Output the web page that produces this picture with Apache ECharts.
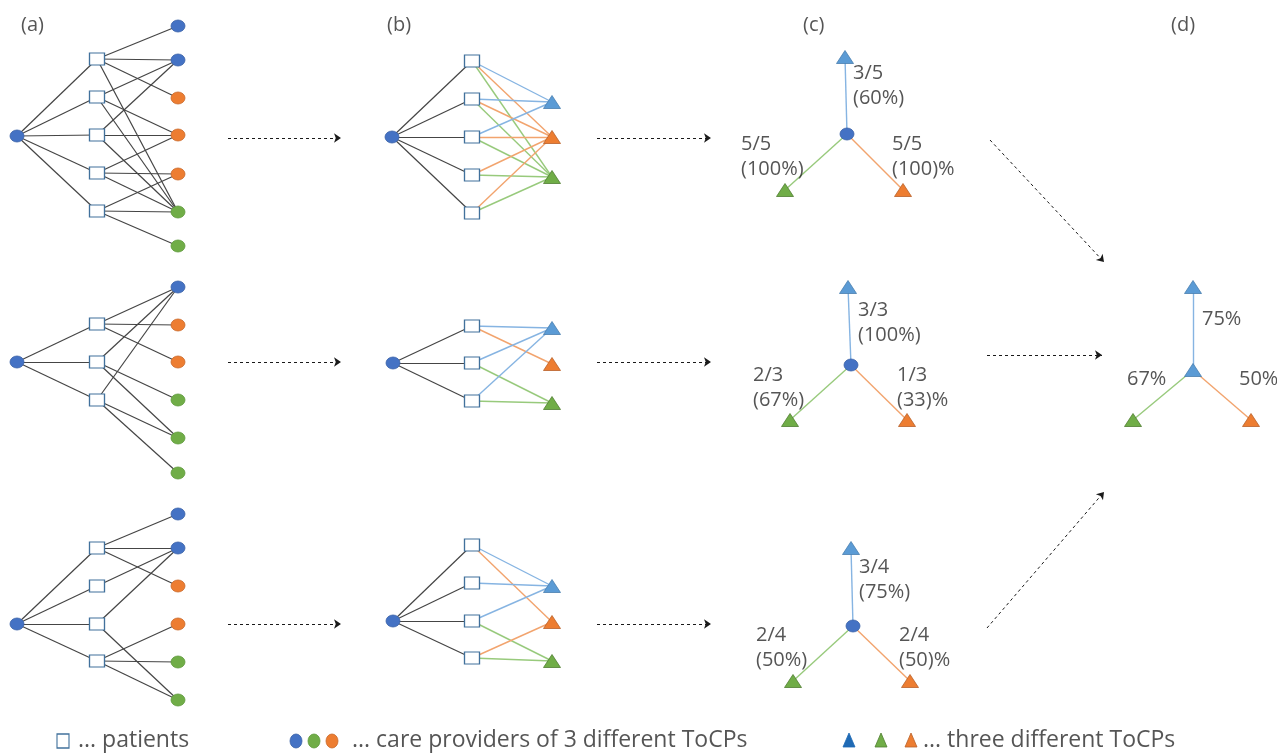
<!DOCTYPE html>
<html><head><meta charset="utf-8">
<script src="https://cdn.jsdelivr.net/npm/echarts@6/dist/echarts.min.js"></script>
<style>html,body{margin:0;padding:0;background:#fff}#c{width:1277px;height:754px}</style>
</head><body><div id="c"></div>
<script>
// ---------- Panel (a): patient / care-provider networks ----------
const aRoot = [[17,136],[17,362],[17,624]];
const aPatX = 97, aProvX = 178;
const aPatY = [[59,97,135,173,211],[324,362,400],[548,586,624,661]];
const aProvY = [[26,60,98,135,174,212,246],[287,325,362,400,438,473],[514,548,586,624,662,700]];
const aProvType = [['B','B','O','O','O','G','G'],['B','O','O','G','G','G'],['B','B','O','O','G','G']];
const aEdges = [
  [[0,0],[0,1],[0,2],[0,5],[1,1],[1,3],[1,5],[2,1],[2,3],[2,5],[3,3],[3,4],[3,5],[4,4],[4,5],[4,6]],
  [[0,0],[0,1],[0,2],[1,0],[1,3],[1,4],[2,0],[2,4],[2,5]],
  [[0,0],[0,1],[0,2],[1,1],[2,1],[2,5],[3,3],[3,4],[3,5]]
];
// ---------- Panel (b): patients linked to ToCPs ----------
const bRoot = [[392,137],[393,363],[393,621]];
const bPatX = 472, bTriX = 552;
const bPatY = [[61,99,137,175,213],[326,363,401],[545,583,621,658]];
const bTriY = [{B:102,O:137,G:177},{B:328,O:364,G:403},{B:586,O:622,G:661}];
const bEdges = [
  [['B','O','G'],['B','O','G'],['B','O','G'],['O','G'],['O','G']],
  [['B','O'],['B','G'],['B','G']],
  [['B','O'],['B'],['B','G'],['O','G']]
];
// ---------- Panel (c): share of patients per ToCP ----------
const cCenter = [[847,134],[851,365],[853,626]];
const cTri = [
  {B:[845,57], O:[903,190], G:[785,190]},
  {B:[848,287], O:[907,420], G:[790,420]},
  {B:[851,548], O:[910,681], G:[793,681]}
];
const cRatio = [{B:'3/5',O:'5/5',G:'5/5'},{B:'3/3',O:'1/3',G:'2/3'},{B:'3/4',O:'2/4',G:'2/4'}];
const cPct   = [{B:'(60%)',O:'(100)%',G:'(100%)'},{B:'(100%)',O:'(33)%',G:'(67%)'},{B:'(75%)',O:'(50)%',G:'(50%)'}];
const cLabelPos = [
  {B:[853,61], O:[892,132], G:[741,132]},
  {B:[858,298], O:[897,363], G:[753,363]},
  {B:[859,555], O:[899,623], G:[756,623]}
];
// ---------- Panel (d): averaged result ----------
const dCenter = [1193,370];
const dTri = {B:[1193,287], O:[1251,420], G:[1133,420]};
const dPct = {B:'75%', O:'50%', G:'67%'};
const dLabelPos = {B:[1202,307], O:[1239,367], G:[1127,367]};
// ---------- dashed arrows ----------
const arrows = [
  [[228,138],[341,138]], [[228,362],[341,362]], [[228,624],[341,624]],
  [[597,138],[711,138]], [[597,362],[711,362]], [[597,624],[711,624]],
  [[990,140],[1104,262]], [[987,355],[1102,355]], [[987,628],[1104,492]]
];
// ---------- headings and legend ----------
const panelTitles = ['(a)','(b)','(c)','(d)'];
const panelTitlePos = [[21,13],[387,13],[803,13],[1171,13]];
const legendTexts = ['... patients','... care providers of 3 different ToCPs','... three different ToCPs'];
const legendTextPos = [[78,726],[352,726],[923,726]];
const legendSquare = [63,741];
const legendCircles = [[296,741,'B'],[314,741,'G'],[332,741,'O']];
const legendTris = [[849,740,'D'],[881,740,'G'],[911,740,'O']];

// ---------- styles ----------
const circleColor = {B:'#4472C4', O:'#ED7D31', G:'#70AD47'};
const circleBorder = {B:'#3A62A8', O:'#C9692A', G:'#5E9A3B'};
const triColor = {B:'#5B9BD5', O:'#ED7D31', G:'#70AD47', D:'#1F6AB5'};
const triBorder = {B:'#4A7FB0', O:'#B8612A', G:'#507E32', D:'#1F6AB5'};
const edgeColor = {B:'#86B4E2', O:'#F2A46E', G:'#98CA7C'};
const FONT = "'Open Sans', 'Liberation Sans', sans-serif";

// ---------- build marks ----------
const grayLines = [], colorLines = [], circles = [], squares = [], tris = [], labels = [];

aRoot.forEach((r, i) => {
  circles.push({value:[r[0], r[1]], itemStyle:{color:circleColor.B, borderColor:circleBorder.B}});
  aPatY[i].forEach(y => {
    grayLines.push({coords:[[r[0], r[1]], [aPatX, y]]});
    squares.push({value:[aPatX, y]});
  });
  aProvY[i].forEach((y, k) => {
    const t = aProvType[i][k];
    circles.push({value:[aProvX, y], itemStyle:{color:circleColor[t], borderColor:circleBorder[t]}});
  });
  aEdges[i].forEach(([p, q]) => grayLines.push({coords:[[aPatX, aPatY[i][p]], [aProvX, aProvY[i][q]]]}));
});

bRoot.forEach((r, i) => {
  circles.push({value:[r[0], r[1]], itemStyle:{color:circleColor.B, borderColor:circleBorder.B}});
  bPatY[i].forEach((y, p) => {
    grayLines.push({coords:[[r[0], r[1]], [bPatX, y]]});
    squares.push({value:[bPatX, y]});
    bEdges[i][p].forEach(t => colorLines.push({coords:[[bPatX, y], [bTriX, bTriY[i][t]]], lineStyle:{color:edgeColor[t]}}));
  });
  ['B','O','G'].forEach(t => tris.push({value:[bTriX, bTriY[i][t]], itemStyle:{color:triColor[t], borderColor:triBorder[t]}}));
});

cCenter.forEach((c, i) => {
  ['B','O','G'].forEach(t => {
    const p = cTri[i][t];
    colorLines.push({coords:[[c[0], c[1]], [p[0], p[1]]], lineStyle:{color:edgeColor[t]}});
    tris.push({value:[p[0], p[1]], itemStyle:{color:triColor[t], borderColor:triBorder[t]}});
    const lp = cLabelPos[i][t];
    labels.push({value:[lp[0], lp[1]], text: cRatio[i][t] + '\n' + cPct[i][t]});
  });
  circles.push({value:[c[0], c[1]], itemStyle:{color:circleColor.B, borderColor:circleBorder.B}});
});

['B','O','G'].forEach(t => {
  const p = dTri[t];
  colorLines.push({coords:[[dCenter[0], dCenter[1]], [p[0], p[1]]], lineStyle:{color:edgeColor[t]}});
  tris.push({value:[p[0], p[1]], itemStyle:{color:triColor[t], borderColor:triBorder[t]}});
  labels.push({value:[dLabelPos[t][0], dLabelPos[t][1]], text:dPct[t]});
});
tris.push({value:[dCenter[0], dCenter[1]], itemStyle:{color:triColor.B, borderColor:triBorder.B}});

panelTitles.forEach((s, i) => labels.push({value:panelTitlePos[i], text:s, label:{fontSize:20}}));
legendTexts.forEach((s, i) => labels.push({value:legendTextPos[i], text:s, label:{fontSize:23, lineHeight:29}}));
squares.push({value:legendSquare, symbolSize:[12,14]});
legendCircles.forEach(c => circles.push({value:[c[0], c[1]], symbolSize:[12,14], itemStyle:{color:circleColor[c[2]], borderColor:circleBorder[c[2]]}}));
legendTris.forEach(c => tris.push({value:[c[0], c[1]], symbolSize:[12,14], itemStyle:{color:triColor[c[2]], borderColor:triBorder[c[2]]}}));

const chart = echarts.init(document.getElementById('c'), null, {renderer:'canvas'});
chart.setOption({
  animation:false,
  backgroundColor:'#ffffff',
  grid:{left:0, right:0, top:0, bottom:0},
  xAxis:{type:'value', min:0, max:1277, show:false},
  yAxis:{type:'value', min:0, max:754, inverse:true, show:false},
  series:[
    {type:'lines', coordinateSystem:'cartesian2d', data:grayLines, silent:true, z:1,
     lineStyle:{color:'#454545', width:1.2, opacity:1}},
    {type:'lines', coordinateSystem:'cartesian2d', data:colorLines, silent:true, z:1,
     lineStyle:{width:1.4, opacity:1}},
    {type:'lines', coordinateSystem:'cartesian2d', silent:true, z:1,
     data:arrows.map(a => ({coords:a})),
     symbol:['none','arrow'], symbolSize:7,
     lineStyle:{color:'#1a1a1a', width:1, type:[3,3], opacity:1}},
    {type:'scatter', data:circles, symbol:'circle', symbolSize:[14,12], z:3, silent:true,
     itemStyle:{borderWidth:0.8, opacity:1}},
    {type:'scatter', data:squares, symbol:'rect', symbolSize:[15,12], z:3, silent:true,
     itemStyle:{color:'#ffffff', borderColor:'#41719C', borderWidth:1.2, opacity:1}},
    {type:'scatter', data:tris, symbol:'triangle', symbolSize:[17,13], z:3, silent:true,
     itemStyle:{borderWidth:0.8, opacity:1}},
    {type:'scatter', data:labels, symbolSize:0, z:4, silent:true,
     label:{show:true, position:[0,0], align:'left', verticalAlign:'top',
       formatter:p => p.data.text, fontFamily:FONT, fontSize:20, lineHeight:25, color:'#2a2a2a'}}
  ]
});
</script></body></html>
